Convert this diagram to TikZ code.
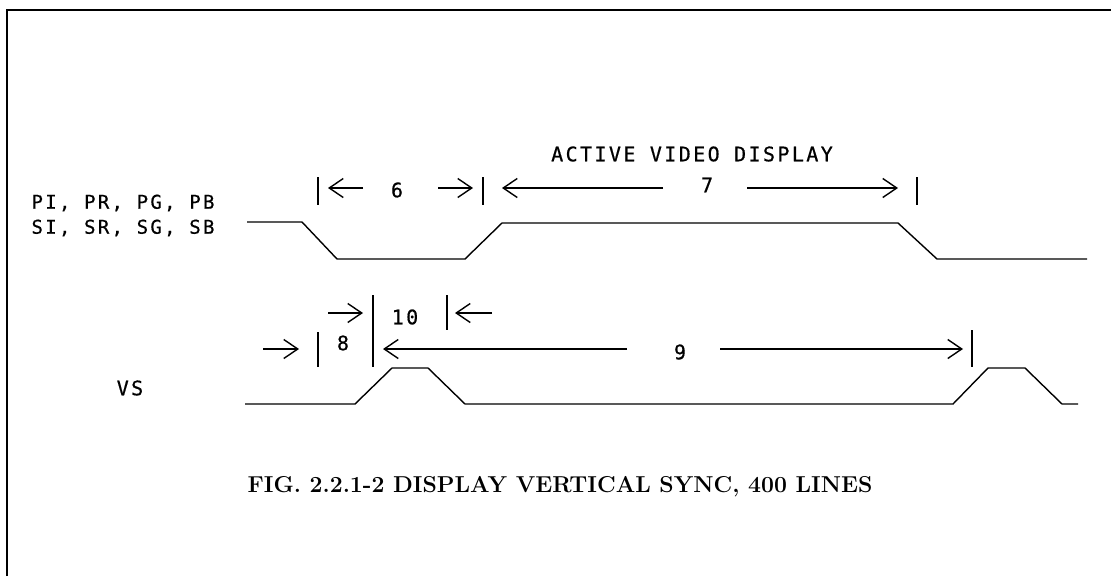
\documentclass[tikz,border=0pt]{standalone}
\usepackage{fontspec}
\usetikzlibrary{arrows.meta}
\newfontfamily\plotfont[LetterSpace=12,FakeBold=0.6]{DejaVu Sans Mono}
\begin{document}
\begin{tikzpicture}[x=1pt,y=-1pt,
  sig/.style={line width=1.4pt},
  tick/.style={line width=1.3pt},
  dimarrow/.style={line width=1.2pt,-{Straight Barb[length=14pt,width=19pt,line width=1.4pt]}},
  plot/.style={font=\fontsize{20}{20}\selectfont\plotfont, inner sep=0pt},
  captext/.style={font=\fontsize{23}{24}\selectfont\bfseries, inner sep=0pt}]
\useasboundingbox (0,0) rectangle (1111,576);
% frame
\draw[line width=2pt] (7,576) -- (7,10) -- (1111,10);

% signal 1
\coordinate (s1a) at (247,222); \coordinate (s1b) at (302,222);
\coordinate (s1c) at (337,259); \coordinate (s1d) at (465,259);
\coordinate (s1e) at (502,223); \coordinate (s1f) at (898,223);
\coordinate (s1g) at (937,259); \coordinate (s1h) at (1087,259);
\draw[sig] (s1a) -- (s1b) -- (s1c) -- (s1d) -- (s1e) -- (s1f) -- (s1g) -- (s1h);

% VS signal
\coordinate (va) at (245,404); \coordinate (vb) at (355,404);
\coordinate (vc) at (392,368); \coordinate (vd) at (428,368);
\coordinate (ve) at (465,404); \coordinate (vf) at (953,404);
\coordinate (vg) at (988,368); \coordinate (vh) at (1025,368);
\coordinate (vi) at (1062,404); \coordinate (vj) at (1078,404);
\draw[sig] (va) -- (vb) -- (vc) -- (vd) -- (ve) -- (vf) -- (vg) -- (vh) -- (vi) -- (vj);

% labels
\node[plot, font=\fontsize{19}{19}\selectfont\plotfont] (lp) at (123,203) {PI, PR, PG, PB};
\node[plot, font=\fontsize{19}{19}\selectfont\plotfont] (ls) at (123,228) {SI, SR, SG, SB};
\node[plot] (lvs) at (130,388) {VS};
\node[plot] (lact) at (692,154) {ACTIVE VIDEO DISPLAY};

% row 1 ticks
\coordinate (t1a) at (318,177); \coordinate (t1b) at (318,205);
\coordinate (t2a) at (483,177); \coordinate (t2b) at (483,205);
\coordinate (t3a) at (917,177); \coordinate (t3b) at (917,205);
\draw[tick] (t1a) -- (t1b);
\draw[tick] (t2a) -- (t2b);
\draw[tick] (t3a) -- (t3b);
% row 1 arrows
\coordinate (a1s) at (363,188); \coordinate (a1e) at (328,188);
\coordinate (a2s) at (438,188); \coordinate (a2e) at (473,188);
\coordinate (a3s) at (663,188); \coordinate (a3e) at (502,188);
\coordinate (a4s) at (747,188); \coordinate (a4e) at (898,188);
\draw[dimarrow] (a1s) -- (a1e);
\draw[dimarrow] (a2s) -- (a2e);
\draw[dimarrow] (a3s) -- (a3e);
\draw[dimarrow] (a4s) -- (a4e);
\node[plot] (l6) at (397,190) {6};
\node[plot] (l7) at (707,185) {7};

% row 2 ticks
\coordinate (u1a) at (318,332); \coordinate (u1b) at (318,367);
\coordinate (u2a) at (373,295); \coordinate (u2b) at (373,367);
\coordinate (u3a) at (447,295); \coordinate (u3b) at (447,330);
\coordinate (u4a) at (972,330); \coordinate (u4b) at (972,367);
\draw[tick] (u1a) -- (u1b);
\draw[tick] (u2a) -- (u2b);
\draw[tick] (u3a) -- (u3b);
\draw[tick] (u4a) -- (u4b);
% row 2 arrows
\coordinate (b1s) at (263,349); \coordinate (b1e) at (299,349);
\coordinate (b2s) at (328,313); \coordinate (b2e) at (363,313);
\coordinate (b3s) at (492,313); \coordinate (b3e) at (455,313);
\coordinate (b4s) at (627,349); \coordinate (b4e) at (383,349);
\coordinate (b5s) at (720,349); \coordinate (b5e) at (963,349);
\draw[dimarrow] (b1s) -- (b1e);
\draw[dimarrow] (b2s) -- (b2e);
\draw[dimarrow] (b3s) -- (b3e);
\draw[dimarrow] (b4s) -- (b4e);
\draw[dimarrow] (b5s) -- (b5e);
\node[plot] (l8) at (343,343) {8};
\node[plot] (l10) at (405,317) {10};
\node[plot] (l9) at (680,352) {9};

% caption
\node[captext] (capt) at (560,487) {FIG. 2.2.1-2 DISPLAY VERTICAL SYNC, 400 LINES};
\end{tikzpicture}
\end{document}
